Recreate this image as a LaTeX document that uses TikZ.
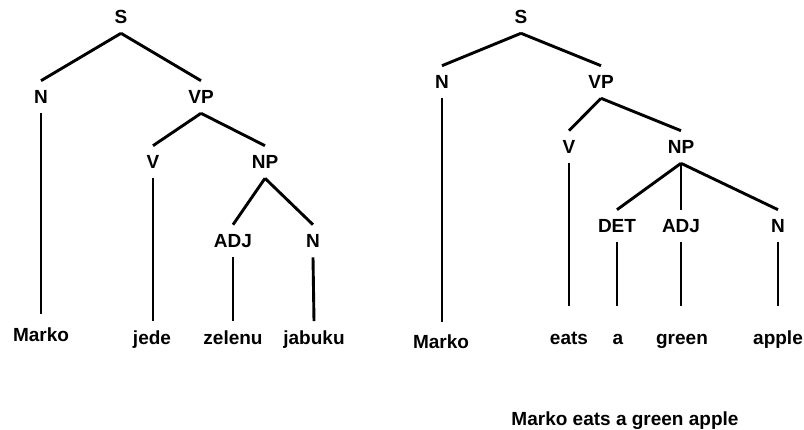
\documentclass[tikz,border=0pt]{standalone}
\usepackage{fontspec}
\setmainfont{Liberation Sans}
\usepackage{tikz}
\usetikzlibrary{positioning}
\tikzstyle{cat}=[font=\bfseries\fontsize{19}{22}\selectfont,text height=13.6pt,text depth=0pt,inner sep=0pt,outer sep=9.5pt]
\tikzstyle{branch}=[line width=2.9pt]

\begin{document}
\begin{tikzpicture}[x=1pt,y=-1pt]
\useasboundingbox (0,0) rectangle (804,430);
% Marko jede zelenu jabuku
\node [cat] (ls) at (121,17) {S};
\node [cat] (ln) at (41,97) {N};
\node [cat] (lvp) at (201,97) {VP};
\node [cat] (lv) at (153,162) {V};
\node [cat] (lnp) at (265,162) {NP};
\node [cat] (ladj) at (233,241) {ADJ};
\node [cat] (lnn) at (313,241) {N};
\node [cat] (lmarko) at (41,334.5) {Marko};
\node [cat] (ljede) at (152,337.5) {jede};
\node [cat] (lzelenu) at (233,337.5) {zelenu};
\node [cat] (ljabuku) at (314,337.5) {jabuku};

\draw [branch] (ls.south) -- (ln.north);
\draw [branch] (ls.south) -- (lvp.north);
\draw [branch] (lvp.south) -- (lv.north);
\draw [branch] (lvp.south) -- (lnp.north);
\draw [branch] (lnp.south) -- (ladj.north);
\draw [branch] (lnp.south) -- (lnn.north);
\draw [branch,shorten >=4.5pt] (ln.south) -- (lmarko.north);
\draw [branch] (lv.south) -- (lv.south |- ljede.north);
\draw [branch] (ladj.south) -- (lzelenu.north);
\draw [branch] (lnn.south) -- (ljabuku.north);

% Marko eats a green apple
\node [cat] (rs) at (521,17) {S};
\node [cat] (rn) at (442,82) {N};
\node [cat] (rvp) at (601,82) {VP};
\node [cat] (rv) at (569,147) {V};
\node [cat] (rnp) at (681,147) {NP};
\node [cat] (rdet) at (617,226) {DET};
\node [cat] (radj) at (681,226) {ADJ};
\node [cat] (rnn) at (778,226) {N};
\node [cat] (rmarko) at (441,341.5) {Marko};
\node [cat] (reats) at (569,337.5) {eats};
\node [cat] (ra) at (618,337.5) {a};
\node [cat] (rgreen) at (682,337.5) {green};
\node [cat] (rapple) at (778,337.5) {apple};
\node [cat] (caption) at (625,418.5) {Marko eats a green apple};

\draw [branch] (rs.south) -- (rn.north);
\draw [branch] (rs.south) -- (rvp.north);
\draw [branch] (rvp.south) -- (rv.north);
\draw [branch] (rvp.south) -- (rnp.north);
\draw [branch] (rnp.south) -- (rdet.north);
\draw [branch] (rnp.south) -- (radj.north);
\draw [branch] (rnp.south) -- (rnn.north);
\draw [branch,shorten >=3.5pt] (rn.south) -- (rn.south |- rmarko.north);
\draw [branch,shorten >=15.5pt] (rv.south) -- (reats.north);
\draw [branch,shorten >=15.5pt] (rdet.south) -- (rdet.south |- ra.north);
\draw [branch,shorten >=15.5pt] (radj.south) -- (radj.south |- rgreen.north);
\draw [branch,shorten >=15.5pt] (rnn.south) -- (rapple.north);
\end{tikzpicture}
\end{document}
